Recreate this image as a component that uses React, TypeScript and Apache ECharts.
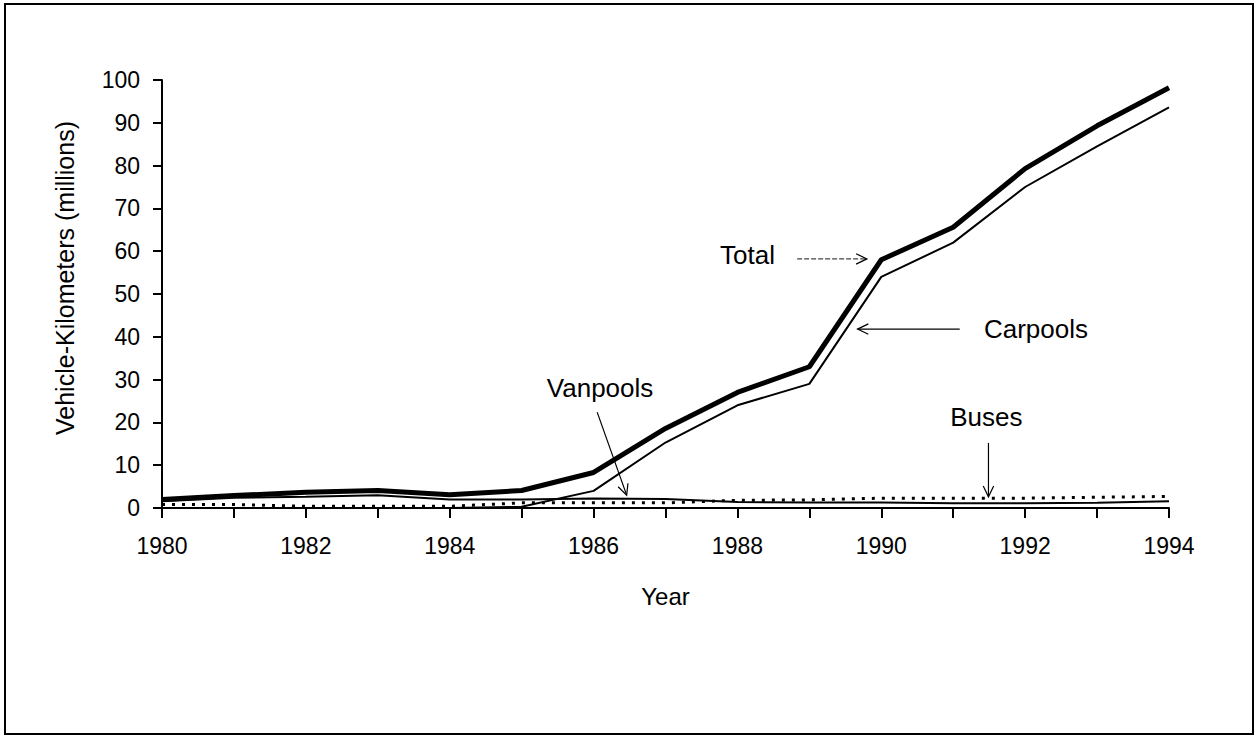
import React, { useEffect, useRef } from "react";
import * as echarts from "echarts";

const years = [1980, 1981, 1982, 1983, 1984, 1985, 1986, 1987, 1988, 1989, 1990, 1991, 1992, 1993, 1994];
const total = [2.0, 2.9, 3.7, 4.1, 3.1, 4.1, 8.3, 18.6, 27.0, 33.0, 58.0, 65.6, 79.3, 89.3, 98.2];
const carpools = [0, 0, 0, 0, 0, 0.3, 4.0, 15.3, 24.0, 29.0, 54.0, 62.0, 75.0, 84.5, 93.6];
const vanpools = [1.6, 2.4, 2.6, 3.0, 2.0, 2.0, 2.2, 2.1, 1.4, 1.3, 1.3, 1.1, 1.1, 1.2, 1.6];
const buses = [0.8, 0.8, 0.4, 0.4, 0.4, 1.2, 1.2, 1.2, 1.8, 1.9, 2.3, 2.3, 2.3, 2.5, 2.7];

const yTicks = { min: 0, max: 100, interval: 10 };
const yTitle = "Vehicle-Kilometers (millions)";
const xTitle = "Year";

// annotation labels in data coordinates: [text, labelYear, labelValue, fromYear, fromValue, toYear, toValue, dashed]
const annotations: [string, number, number, number, number, number, number, boolean][] = [
  ["Total", 1988.14, 59.1, 1988.83, 58.2, 1989.8, 58.2, true],
  ["Carpools", 1992.15, 41.8, 1991.09, 41.8, 1989.67, 41.8, false],
  ["Vanpools", 1986.09, 28.0, 1986.05, 22.4, 1986.46, 3.0, false],
  ["Buses", 1991.46, 21.3, 1991.49, 15.2, 1991.49, 2.6, false],
];

const FONT = "'Liberation Sans', Arial, Helvetica, sans-serif";

const pairs = (vals: number[]) => years.map((y, i) => [y, vals[i]]);

export default function App() {
  const ref = useRef<HTMLDivElement>(null);
  useEffect(() => {
    if (!ref.current) return;
    const chart = echarts.init(ref.current, undefined, { renderer: "svg" });
    const option: any = {
      animation: false,
      backgroundColor: "#ffffff",
      grid: { left: 162, right: 90, top: 80, bottom: 230, containLabel: false },
      xAxis: {
        type: "value",
        min: 1980,
        max: 1994,
        interval: 1,
        name: xTitle,
        nameLocation: "middle",
        nameGap: 76,
        nameTextStyle: { fontFamily: FONT, fontSize: 24, color: "#000" },
        axisLine: { show: true, lineStyle: { color: "#000", width: 2 } },
        axisTick: { show: true, inside: false, length: 10, lineStyle: { color: "#000", width: 2 } },
        axisLabel: {
          margin: 26,
          fontFamily: FONT,
          fontSize: 23,
          color: "#000",
          formatter: (v: number) => (v % 2 === 0 ? String(v) : ""),
        },
        splitLine: { show: false },
      },
      yAxis: {
        type: "value",
        min: yTicks.min,
        max: yTicks.max,
        interval: yTicks.interval,
        axisLine: { show: true, lineStyle: { color: "#000", width: 2 } },
        axisTick: { show: true, inside: false, length: 9, lineStyle: { color: "#000", width: 2 } },
        axisLabel: { margin: 22, fontFamily: FONT, fontSize: 23, color: "#000" },
        splitLine: { show: false },
      },
      series: [
        {
          name: "Buses",
          type: "line",
          data: pairs(buses),
          showSymbol: false,
          lineStyle: { color: "#000", width: 3, type: [3, 7] },
          z: 2,
        },
        {
          name: "Vanpools",
          type: "line",
          data: pairs(vanpools),
          showSymbol: false,
          lineStyle: { color: "#000", width: 2 },
          z: 3,
        },
        {
          name: "Carpools",
          type: "line",
          data: pairs(carpools),
          showSymbol: false,
          lineStyle: { color: "#000", width: 2 },
          z: 4,
        },
        {
          name: "Total",
          type: "line",
          data: pairs(total),
          showSymbol: false,
          lineStyle: { color: "#000", width: 5 },
          z: 5,
        },
      ],
    };
    chart.setOption(option);

    const graphics: any[] = [
      {
        type: "rect",
        shape: { x: 5, y: 4, width: 1248, height: 730 },
        style: { fill: "none", stroke: "#000", lineWidth: 2 },
        silent: true,
      },
      {
        type: "text",
        x: 65,
        y: 278,
        rotation: Math.PI / 2,
        style: {
          text: yTitle,
          fontFamily: FONT,
          fontSize: 25,
          fill: "#000",
          align: "center",
          verticalAlign: "middle",
        },
      },
    ];
    annotations.forEach(([text, lx, ly, fx, fy, tx, ty, dashed]) => {
      const lp = chart.convertToPixel({ gridIndex: 0 }, [lx, ly]) as number[];
      const fp = chart.convertToPixel({ gridIndex: 0 }, [fx, fy]) as number[];
      const tp = chart.convertToPixel({ gridIndex: 0 }, [tx, ty]) as number[];
      graphics.push({
        type: "text",
        x: lp[0],
        y: lp[1],
        style: {
          text,
          fontFamily: FONT,
          fontSize: 26,
          fill: "#000",
          align: "center",
          verticalAlign: "middle",
        },
      });
      graphics.push({
        type: "line",
        shape: { x1: fp[0], y1: fp[1], x2: tp[0], y2: tp[1] },
        style: { stroke: dashed ? "#444" : "#000", lineWidth: 1.2, lineDash: dashed ? [5, 2] : null },
      });
      const ang = Math.atan2(tp[1] - fp[1], tp[0] - fp[0]);
      const L = 12;
      const spread = 0.45;
      const a1 = ang + Math.PI - spread;
      const a2 = ang + Math.PI + spread;
      graphics.push({
        type: "polyline",
        shape: {
          points: [
            [tp[0] + L * Math.cos(a1), tp[1] + L * Math.sin(a1)],
            [tp[0], tp[1]],
            [tp[0] + L * Math.cos(a2), tp[1] + L * Math.sin(a2)],
          ],
        },
        style: { stroke: "#000", lineWidth: 1.2, fill: "none" },
      });
    });
    chart.setOption({ graphic: graphics });

    return () => chart.dispose();
  }, []);
  return (
    <div
      ref={ref}
      style={{ position: "fixed", left: 0, top: 0, width: 1259, height: 738, background: "#fff" }}
    />
  );
}
